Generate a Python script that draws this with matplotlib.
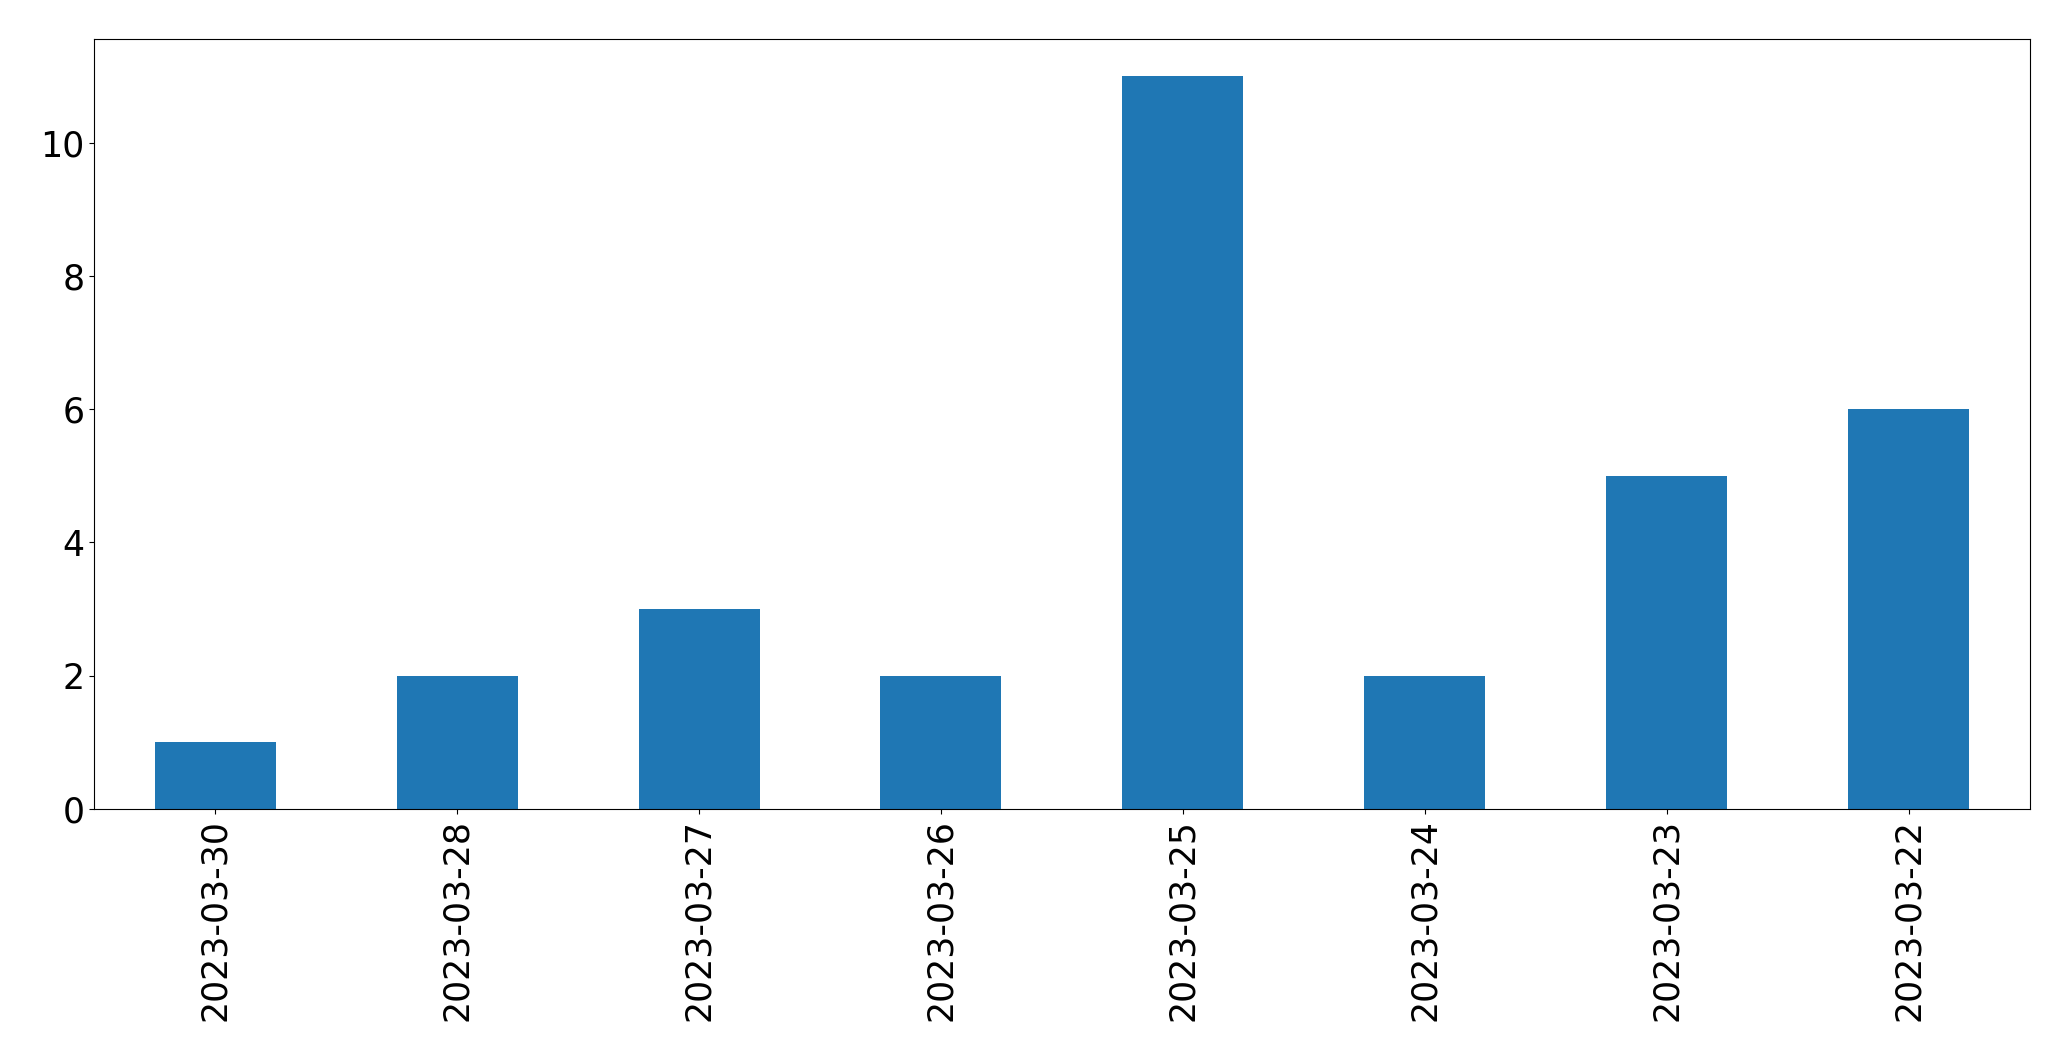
import matplotlib
matplotlib.use("Agg")
import matplotlib.pyplot as plt
import pandas as pd

# counts per day
dates = ["2023-03-30", "2023-03-28", "2023-03-27", "2023-03-26",
         "2023-03-25", "2023-03-24", "2023-03-23", "2023-03-22"]
counts = [1, 2, 3, 2, 11, 2, 5, 6]

s = pd.Series(counts, index=dates)

fig = plt.figure(figsize=(20.71, 10.61), dpi=100)
ax = fig.add_axes([0.0455, 0.2375, 0.9345, 0.7255])
s.plot(kind="bar", ax=ax, color="#1f77b4")
ax.tick_params(axis="both", labelsize=25)
ax.set_ylim(0, 11.55)

fig.savefig("out.png", dpi=100)
